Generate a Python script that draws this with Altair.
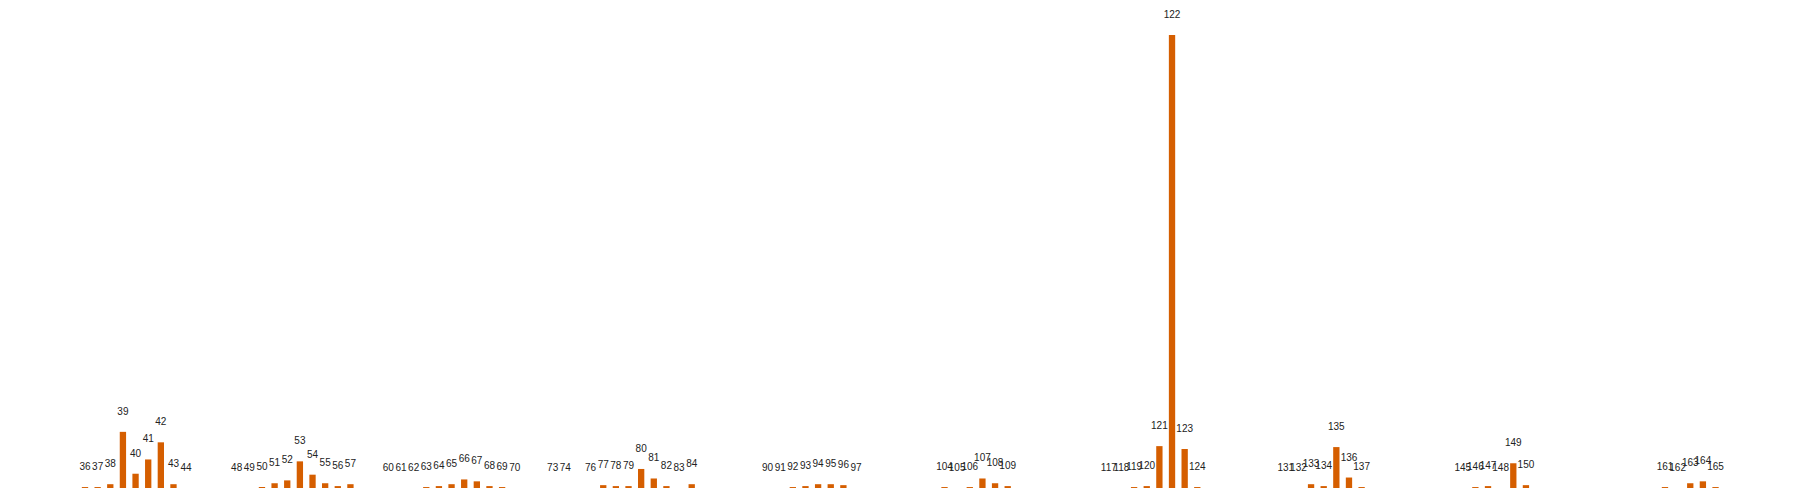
import altair as alt
import pandas as pd

# bin positions (x) and bar heights (arbitrary units)
bins = [36, 37, 38, 39, 40, 41, 42, 43, 44,
        48, 49, 50, 51, 52, 53, 54, 55, 56, 57,
        60, 61, 62, 63, 64, 65, 66, 67, 68, 69, 70,
        73, 74, 76, 77, 78, 79, 80, 81, 82, 83, 84,
        90, 91, 92, 93, 94, 95, 96, 97,
        104, 105, 106, 107, 108, 109,
        117, 118, 119, 120, 121, 122, 123, 124,
        131, 132, 133, 134, 135, 136, 137,
        145, 146, 147, 148, 149, 150,
        161, 162, 163, 164, 165]
counts = [1, 1, 4, 59, 15, 30, 48, 4, 0,
          0, 0, 1, 5, 8, 28, 14, 5, 2, 4,
          0, 0, 0, 1, 2, 4, 9, 7, 2, 1, 0,
          0, 0, 0, 3, 2, 2, 20, 10, 2, 0, 4,
          0, 0, 1, 2, 4, 4, 3, 0,
          1, 0, 1, 10, 5, 2,
          0, 0, 1, 2, 44, 476, 41, 1,
          0, 0, 4, 2, 43, 11, 1,
          0, 1, 2, 0, 26, 3,
          1, 0, 5, 7, 1]

df = pd.DataFrame({"bin": bins, "count": counts})

xscale = alt.Scale(domain=[29.908, 171.05], nice=False, zero=False)
yscale = alt.Scale(domain=[0, 504.4], nice=False)

base = alt.Chart(df).transform_calculate(
    x0="datum.bin - 0.25", x1="datum.bin + 0.25", label="'' + datum.bin"
)

bars = base.mark_bar(color="#d55e00").encode(
    x=alt.X("x0:Q", scale=xscale, axis=None),
    x2="x1:Q",
    y=alt.Y("count:Q", scale=yscale, axis=None),
    y2=alt.datum(0),
)

labels = base.mark_text(
    dy=-20, baseline="middle", align="center",
    font="'Liberation Sans Narrow', 'Liberation Sans', sans-serif",
    fontSize=10, color="#222222"
).encode(
    x=alt.X("bin:Q", scale=xscale, axis=None),
    y=alt.Y("count:Q", scale=yscale, axis=None),
    text="label:N",
)

chart = (bars + labels).properties(
    width=1784, height=480, padding=0,
    autosize=alt.AutoSizeParams(type="none"),
).configure_view(strokeWidth=0)

chart.save("out.html", embed_options={"renderer": "svg", "actions": False})
